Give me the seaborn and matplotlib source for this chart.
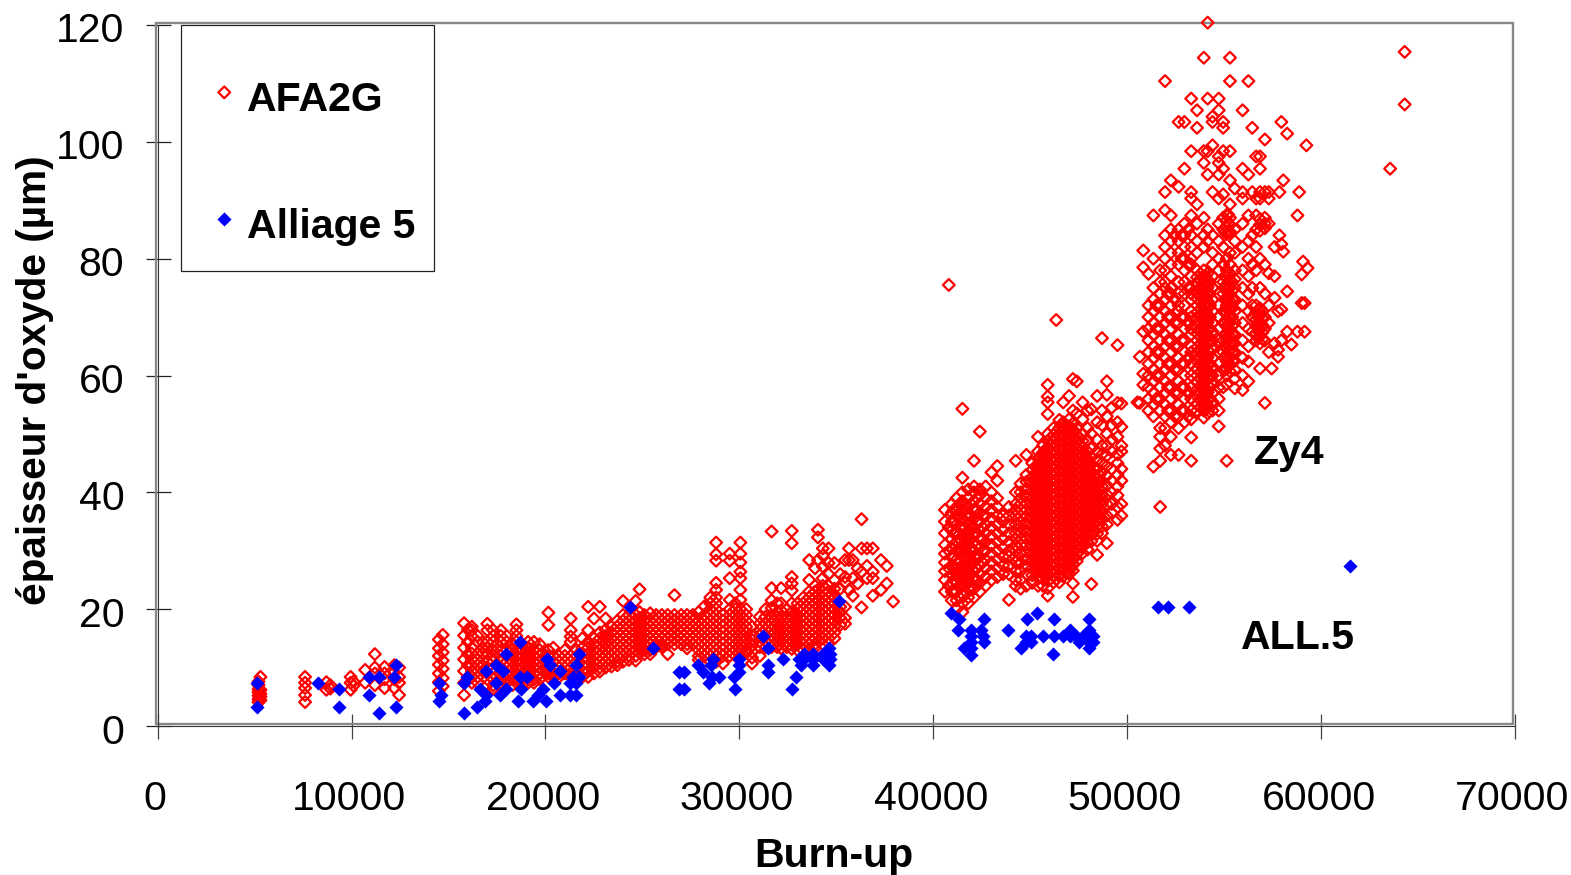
import matplotlib
matplotlib.use('Agg')
import matplotlib.pyplot as plt
from matplotlib.patches import Rectangle
from matplotlib.transforms import ScaledTranslation
import pandas as pd
import seaborn as sns

# Values. Each entry: (burn-up, [oxide thicknesses at that burn-up])
afa_low = [
    (5200, [4.1, 4.6, 5.2, 5.8, 6.3, 7.0, 7.6]), (5300, [4.4, 5.0, 5.5, 6.2, 8.4]),
    (7600, [8.4, 7.4, 6.5, 5.3, 4.1]), (8700, [7.5, 6.2]), (8900, [7.0, 6.4]),
    (9950, [8.4, 7.4, 6.2]), (10100, [7.6, 6.9]),
    (10700, [9.6, 7.4]), (11200, [12.3, 10.0, 9.0, 7.0]), (11700, [10.1, 9.0, 8.0, 6.5]),
    (12200, [10.4, 8.0, 6.5, 9.2]), (12450, [10.0, 8.4, 7.4, 5.3]),
    (14500, [14.8, 13.3, 12.0, 10.5, 9.0, 7.5, 6.0]),
    (14700, [15.6, 14.0, 12.6, 11.2, 9.8, 8.2, 6.8]),
]
afa_mid = [
    (15800, [17.6, 15.5, 13.4, 11.4, 9.4, 7.4, 5.3]),
    (16000, [16.5, 14.4, 12.3, 10.4, 8.4]),
    (16200, [17.0, 16.4, 15.4, 13.4, 12.4, 11.4, 10.4, 9.4, 8.4, 7.4]),
    (16500, [15.4, 14.4, 12.4, 11.4, 10.4, 9.4, 8.4, 7.4]),
    (16750, [14.4, 13.4, 12.4, 10.4, 9.4]),
    (17000, [17.5, 16.4, 14.4, 13.4, 12.4, 11, 10, 9, 8, 7]),
    (17300, [16.4, 15.4, 14.4, 13, 12, 11, 10, 9, 8, 7, 6.4]),
    (17700, [16.4, 15.4, 14.4, 13, 12, 11, 10, 9, 8, 7.4]),
    (18000, [15.4, 14.4, 13, 12, 11, 10, 9, 8, 7.4]),
    (18300, [14, 13, 12, 11, 10, 9, 8, 7]),
    (18500, [17.4, 16.4, 15.4, 14.4, 13, 12, 11, 10, 9, 8, 7.4]),
    (18800, [14, 13, 12, 11, 10, 9, 8, 7]),
    (19100, [14.4, 13.4, 12.4, 11.4, 10.4, 9.4, 8.4, 7.4]),
    (19400, [14.4, 13, 12, 11, 10, 9, 8, 7.4]),
    (19700, [14, 13, 12, 11, 10, 9, 8]),
    (20150, [19.4, 17.3, 13, 12, 11, 10, 9, 8.4]),
    (20400, [13.4, 12, 11, 10, 9, 8.4]),
    (20700, [12, 11, 10, 9, 8.4]),
    (21000, [13, 12, 11, 10, 9]),
    (21300, [18.4, 16.4, 15.3, 14.4, 12, 11, 10, 9, 8.4]),
    (21600, [13, 12, 11, 10, 9, 8]),
    (21900, [15, 13.4, 12.4, 11.4, 10.4, 9.4, 8.4]),
    (22200, [20.4, 16.4, 14.4, 13.4, 12.4, 11.4, 10.4, 9.4, 8.4]),
    (22500, [18.4, 15, 14, 13, 12, 11, 10, 9]),
    (22800, [20.4, 16, 15, 14, 13, 12, 11, 10, 9.3]),
    (23100, [18.4, 16.5, 15.4, 14.3, 13.2, 12.1, 11, 10]),
    (23400, [17, 16, 15, 14, 13, 12, 11, 10.2]),
    (23700, [18, 17, 16, 15, 14, 13, 12, 11, 10.4]),
    (24000, [21.4, 19, 18, 17, 16, 15, 14, 13, 12, 11]),
    (24300, [19, 18, 17, 16, 15, 14, 13, 12, 11.3]),
    (24650, [21.4, 19, 18, 17, 16, 15, 14, 13, 12, 11.2]),
    (24850, [23.4, 19.5, 18.5, 17.5, 16.5, 15.5, 14.5, 13.5, 12.5]),
]
afa_plateau = [
    (25100, [19, 18, 17, 16, 15, 14, 13, 12.3]),
    (25400, [19.3, 18, 17, 16, 15, 14, 13, 12.3]),
    (25700, [19, 18, 17, 16, 15, 14, 13.5]),
    (26000, [19, 18, 17, 16, 15, 14, 13.5]),
    (26300, [19, 18, 17, 16, 15, 14, 12.3]),
    (26650, [22.4, 19, 18, 17, 16, 15, 14]),
    (27000, [19, 18, 17, 16, 15, 14]),
    (27300, [19, 18, 17, 16, 15, 14, 13.3]),
    (27600, [19, 18, 17, 16, 15, 14]),
    (27900, [19.5, 18, 17, 16, 15, 14, 13, 12, 11.3]),
    (28200, [20.5, 19, 18, 17, 16, 15, 14, 13, 12, 11]),
    (28500, [22, 21, 20, 19, 18, 17, 16, 15, 14, 13, 12, 11]),
    (28800, [31.4, 29.4, 28.3, 24.5, 23.3, 22, 21, 20, 19, 18, 17, 16, 15, 14, 13, 12, 11]),
    (29150, [19, 18, 17, 16, 15, 14, 13, 12, 10.7]),
    (29500, [29.5, 28.3, 25.3, 21.6, 20, 19, 18, 17, 16, 15, 14, 13, 12]),
    (29800, [21, 20, 19, 18, 17, 16, 15, 14, 13, 12]),
    (30050, [31.4, 29.5, 28, 26.4, 25.3, 23.3, 21.6, 20, 19, 18, 17, 16, 15, 14, 13, 12]),
    (30350, [20, 19, 18, 17, 16, 15, 14, 13, 12.5]),
    (30650, [17, 15.5, 14.7, 13.7, 12.7, 11.7, 10.7]),
    (31050, [18.7, 17.5, 16.5, 15.5, 14.5, 13.5, 12]),
    (31350, [20, 18.7, 17.5, 16.5, 15.5, 14.5, 13.5]),
    (31660, [33.3, 23.6, 21.5, 20.2, 18.7, 17.5, 16.5, 15.5, 14.5, 13.5]),
    (31950, [21, 19.5, 18.7, 17.5, 16.5, 15.5, 14.5, 13.5]),
    (32150, [23.6, 21, 19.8, 18.7, 17.5, 16.5, 15.5, 14.5, 13.3]),
    (32700, [33.4, 31.3, 25.5, 24.4, 23.2, 21, 19.5, 18.7, 17.5, 16.5, 15.5, 14.5, 13.2]),
    (32450, [20, 18.7, 17.5, 16.5, 15.5, 14.5, 13.5]),
    (33000, [21, 20, 19, 18, 17, 16, 15, 14, 13]),
    (33300, [22, 21, 20, 19, 18, 17, 16, 15, 14, 13]),
    (33600, [28.4, 25, 23, 22, 21, 20, 19, 18, 17, 16, 15, 14, 13.2]),
    (33900, [27, 24, 23, 22, 21, 20, 19, 18, 17, 16, 15, 14, 13.4]),
    (34050, [33.6, 32.3, 28.4]),
    (34300, [30.4, 29.2, 27.3, 25.3, 24, 23, 22, 21, 20, 19, 18, 17, 16, 15, 14]),
    (34600, [30.4, 27.9, 26, 24, 23, 22, 21, 20, 19, 18, 17, 16, 15, 14.2]),
    (34900, [27.9, 25, 23.5, 22, 21, 20, 19, 18, 17, 16, 15]),
    (35200, [26, 23.5, 20.4, 19.5, 18.5, 17.3]),
    (35450, [28.4, 25.5, 24.5, 20.4, 18.5, 17.5]),
    (35650, [30.4, 28.4, 23.3]),
    (35850, [28.4, 25.3, 22.3]),
    (36100, [24.4, 27]),
    (36300, [35.4, 30.4, 26.4, 20.3]),
    (36580, [30.4, 27.4, 25.3]),
    (36880, [30.4, 26.4, 25.3, 22.3]),
    (37300, [28.4, 23.3]), (37600, [27.4, 24.4]), (37930, [21.3]),
]
afa_band_fill = [
    (18650, [13.5, 12.5, 11.5, 10.5, 9.5, 8.5]), (18950, [12.5, 11.5, 10.5, 9.5, 8.5]),
    (19250, [12.5, 11.5, 10.5, 9.5, 8.5]), (19550, [12.5, 11.5, 10.5, 9.5, 8.5]),
    (19850, [12.5, 11.5, 10.5, 9.5, 8.5]), (20050, [11.5, 10.5, 9.5]), (20550, [11.5, 10.5, 9.5]),
    (22650, [13.5, 12.5, 11.5, 10.5]), (22950, [14.5, 13.5, 12.5, 11.5, 10.5]),
    (23250, [15.5, 14.5, 13.5, 12.5, 11.5, 10.5]), (23550, [16.5, 15.5, 14.5, 13.5, 12.5, 11.5]),
    (23850, [17.5, 16.5, 15.5, 14.5, 13.5, 12.5, 11.5]), (24150, [18.5, 17.5, 16.5, 15.5, 14.5, 13.5, 12.5]),
    (24480, [18.5, 17.5, 16.5, 15.5, 14.5, 13.5, 12.5]), (24980, [18.5, 17.5, 16.5, 15.5, 14.5, 13.5]),
    (25250, [18.5, 17.5, 16.5, 15.5, 14.5, 13.5]), (25550, [18.5, 17.5, 16.5, 15.5, 14.5]),
    (25850, [18.5, 17.5, 16.5, 15.5, 14.5]), (26150, [18.5, 17.5, 16.5, 15.5, 14.5]),
    (26470, [18.5, 17.5, 16.5, 15.5, 14.5]), (26820, [18.5, 17.5, 16.5, 15.5, 14.5]),
    (27150, [18.5, 17.5, 16.5, 15.5, 14.5]), (27450, [18.5, 17.5, 16.5, 15.5, 14.5]),
    (27750, [18.5, 17.5, 16.5, 15.5, 14.5]), (28050, [18.5, 17.5, 16.5, 15.5, 14.5, 13.5, 12.5]),
    (28650, [19.5, 18.5, 17.5, 16.5, 15.5, 14.5, 13.5, 12.5]),
    (29650, [19.5, 18.5, 17.5, 16.5, 15.5, 14.5, 13.5, 12.5]),
    (29950, [19.5, 18.5, 17.5, 16.5, 15.5, 14.5, 13.5, 12.5]),
    (30200, [18.5, 17.5, 16.5, 15.5, 14.5, 13.5]),
    (31200, [17, 16, 15, 14]), (31500, [18, 17, 16, 15, 14]), (31800, [18, 17, 16, 15, 14]),
    (32050, [18, 17, 16, 15, 14]), (32300, [18, 17, 16, 15, 14]), (32570, [18, 17, 16, 15, 14]),
    (32850, [19, 18, 17, 16, 15, 14]), (33150, [20.5, 19.5, 18.5, 17.5, 16.5, 15.5, 14.5]),
    (33450, [21.5, 20.5, 19.5, 18.5, 17.5, 16.5, 15.5, 14.5]),
    (33750, [22.5, 21.5, 20.5, 19.5, 18.5, 17.5, 16.5, 15.5, 14.5]),
    (34100, [23.5, 22.5, 21.5, 20.5, 19.5, 18.5, 17.5, 16.5, 15.5, 14.5]),
    (34450, [23.5, 22.5, 21.5, 20.5, 19.5, 18.5, 17.5, 16.5, 15.5]),
    (34750, [22.5, 21.5, 20.5, 19.5, 18.5, 17.5, 16.5]),
]
afa_high = [
    (40600, [23, 25, 26.5, 28, 29.5, 31, 33, 35, 37]),
    (40800, [75.5, 24, 27, 30, 34]),
    (40950, [21.5, 23, 24.5, 26, 27.5, 29, 30.5, 32, 33.5, 35, 36.5, 38]),
    (41200, [20, 21.5, 23, 24.5, 26, 27, 28.5, 30, 31.5, 33, 34.5, 36, 37, 39]),
    (41500, [54.3, 42.5, 40, 38.5, 37, 35.5, 34, 32.5, 31, 30, 29, 27.5, 26, 25, 24, 22.5, 21, 19.5]),
    (41800, [21, 22, 23.5, 25, 26, 27, 28, 29.5, 31, 32, 33, 34.5, 36, 37.5, 39, 40.5]),
    (42100, [45.4, 41, 40, 38.5, 37, 35.5, 34, 33, 31.5, 30, 29, 28, 26.5, 25, 23.5, 22]),
    (42400, [50.4, 40.5, 39.5, 38, 36.5, 35, 33.5, 32, 30.5, 29, 27.5, 26, 24.5, 23]),
    (42700, [41, 39, 37.5, 36, 34.5, 33, 31.5, 30, 28.5, 27, 25.5, 24]),
    (43000, [43.4, 40, 38.5, 37, 35.5, 34, 32.5, 31, 29.5, 28, 26.5, 25]),
    (43300, [44.5, 42, 39, 37.5, 36, 34.5, 33, 31.5, 30, 28.5, 27, 25.5]),
    (43600, [36, 35, 33.5, 32, 30.5, 29, 27.5, 26]),
    (43900, [37.5, 36, 34.5, 33, 31.5, 30, 29, 27.5, 26, 21.6]),
    (44250, [45.4, 40, 38, 37, 36, 34.5, 33, 32, 31, 30, 29, 28, 26.5, 25, 24]),
    (44500, [41.5, 40, 39, 38, 37, 36, 35, 34, 33, 32, 31, 29.5, 28, 26.5, 25, 23.5]),
    (44800, [46.4, 43, 41.8, 40.6, 39.4, 38.2, 37, 35.8, 34.6, 33.4, 32.2, 31, 29.8, 28.6, 27.4, 26, 24]),
    (45100, [45, 43.8, 42.6, 41.4, 40.2, 39, 37.8, 36.6, 35.4, 34.2, 33, 31.8, 30.6, 29.4, 28.2, 27, 25.8, 24.5]),
    (45400, [49.5, 47, 45.8, 44.6, 43.4, 42.2, 41, 39.8, 38.6, 37.4, 36.2, 35, 33.8, 32.6, 31.4, 30.2, 29, 27.8, 26.6, 25.4, 24]),
    (45650, [48, 46.8, 45.6, 44.4, 43.2, 42, 40.8, 39.6, 38.4, 37.2, 36, 34.8, 33.6, 32.4, 31.2, 30, 28.8, 27.6, 26.4, 25.2, 24]),
    (45900, [58.4, 56.4, 55.4, 53.4, 50, 48.8, 47.6, 46.4, 45.2, 44, 42.8, 41.6, 40.4, 39.2, 38, 36.8, 35.6, 34.4, 33.2, 32, 30.8, 29.6, 28.4, 27.2, 26, 24.8, 23.6, 22.3]),
    (46200, [51, 49.8, 48.6, 47.4, 46.2, 45, 43.8, 42.6, 41.4, 40.2, 39, 37.8, 36.6, 35.4, 34.2, 33, 31.8, 30.6, 29.4, 28.2, 27, 25.8, 24.6]),
    (46340, [69.5]),
    (46500, [52.4, 51, 49.8, 48.6, 47.4, 46.2, 45, 43.8, 42.6, 41.4, 40.2, 39, 37.8, 36.6, 35.4, 34.2, 33, 31.8, 30.6, 29.4, 28.2, 27, 25.8, 24.6]),
    (46700, [55.4, 52, 50.8, 49.6, 48.4, 47.2, 46, 44.8, 43.6, 42.4, 41.2, 40, 38.8, 37.6, 36.4, 35.2, 34, 32.8, 31.6, 30.4, 29.2, 28, 26.8, 25.6]),
    (47000, [56.5, 52.5, 51.3, 50.1, 48.9, 47.7, 46.5, 45.3, 44.1, 42.9, 41.7, 40.5, 39.3, 38.1, 36.9, 35.7, 34.5, 33.3, 32.1, 30.9, 29.7, 28.5, 27.3, 26.1]),
    (47200, [59.4, 54, 51.8, 50.6, 49.4, 48.2, 47, 45.8, 44.6, 43.4, 42.2, 41, 39.8, 38.6, 37.4, 36.2, 35, 33.8, 32.6, 31.4, 30.2, 29, 27.8, 26.6, 24.4, 22.1]),
    (47400, [59, 53.5, 51, 49.8, 48.6, 47.4, 46.2, 45, 43.8, 42.6, 41.4, 40.2, 39, 37.8, 36.6, 35.4, 34.2, 33, 31.8, 30.6, 29.4, 28.2]),
    (47700, [55.4, 52.5, 50, 48.8, 47.6, 46.4, 45.2, 44, 42.8, 41.6, 40.4, 39.2, 38, 36.8, 35.6, 34.4, 33.2, 32, 30.8, 29.6]),
    (47950, [54, 51, 49, 47, 45.8, 44.6, 43.4, 42.2, 41, 39.8, 38.6, 37.4, 36.2, 35, 33.8, 32.6, 31.4, 30.2]),
    (48150, [24.3, 54.2, 50, 47.5, 46, 44.8, 43.6, 42.4, 41.2, 40, 38.8, 37.6, 36.4, 35.2, 34, 32.8, 31.6]),
    (48450, [56.5, 52, 49, 47, 45.5, 44, 42.5, 41.3, 40.1, 38.9, 37.7, 36.5, 35.3, 34.1, 32.9, 31.7, 29.3]),
    (48700, [66.4, 54, 51.5, 48, 46.5, 45, 43.5, 42, 41, 39.5, 38, 36.8, 35.5, 34.2, 33]),
    (48950, [59, 56.7, 53, 50, 48, 46.3, 44.5, 42.8, 41.2, 39.6, 38, 36, 34.5, 31.3]),
    (49200, [54.5, 51.5, 49, 47, 44, 42, 40, 38, 36.5]),
    (49500, [65.2, 55.3, 52, 49.5, 46.5, 45, 43, 41, 39.5, 37.5, 35.3]),
    (49700, [55.2, 51.2, 48, 47, 44, 42, 38, 36]),
    (50530, [55.4]),
]
afa_high_fill = [
    (41050, [37, 35, 33, 31, 29, 27, 25, 23]), (41350, [38, 36, 34, 32, 30, 28, 26, 24, 22]),
    (41650, [38, 36, 34, 32, 30, 28, 26, 24]), (41950, [38, 36, 34, 32, 30, 28, 26, 24]),
    (42250, [37, 35, 33, 31, 29, 27, 25]), (42550, [36, 34, 32, 30, 28]),
    (45250, [44.4, 43.2, 42, 40.8, 39.6, 38.4, 37.2, 36, 34.8, 33.6, 32.4, 31.2, 30, 28.8, 27.6, 26.4]),
    (45520, [46, 44.8, 43.6, 42.4, 41.2, 40, 38.8, 37.6, 36.4, 35.2, 34, 32.8, 31.6, 30.4, 29.2, 28, 26.8, 25.6]),
    (45770, [47.2, 46, 44.8, 43.6, 42.4, 41.2, 40, 38.8, 37.6, 36.4, 35.2, 34, 32.8, 31.6, 30.4, 29.2, 28, 26.8, 25.6]),
    (46050, [49.2, 48, 46.8, 45.6, 44.4, 43.2, 42, 40.8, 39.6, 38.4, 37.2, 36, 34.8, 33.6, 32.4, 31.2, 30, 28.8, 27.6, 26.4, 25.2]),
    (46350, [50.4, 49.2, 48, 46.8, 45.6, 44.4, 43.2, 42, 40.8, 39.6, 38.4, 37.2, 36, 34.8, 33.6, 32.4, 31.2, 30, 28.8, 27.6, 26.4, 25.2]),
    (46600, [51.4, 50.2, 49, 47.8, 46.6, 45.4, 44.2, 43, 41.8, 40.6, 39.4, 38.2, 37, 35.8, 34.6, 33.4, 32.2, 31, 29.8, 28.6, 27.4, 26.2]),
    (46850, [51.4, 50.2, 49, 47.8, 46.6, 45.4, 44.2, 43, 41.8, 40.6, 39.4, 38.2, 37, 35.8, 34.6, 33.4, 32.2, 31, 29.8, 28.6, 27.4, 26.2]),
    (47100, [51, 49.8, 48.6, 47.4, 46.2, 45, 43.8, 42.6, 41.4, 40.2, 39, 37.8, 36.6, 35.4, 34.2, 33, 31.8, 30.6, 29.4, 28.2, 27]),
    (47300, [50.4, 49.2, 48, 46.8, 45.6, 44.4, 43.2, 42, 40.8, 39.6, 38.4, 37.2, 36, 34.8, 33.6, 32.4, 31.2, 30, 28.8]),
    (47550, [49.2, 48, 46.8, 45.6, 44.4, 43.2, 42, 40.8, 39.6, 38.4, 37.2, 36, 34.8, 33.6, 32.4, 31.2, 30]),
    (47800, [46.8, 45.6, 44.4, 43.2, 42, 40.8, 39.6, 38.4, 37.2, 36, 34.8, 33.6, 32.4, 31.2]),
    (48050, [45, 43.8, 42.6, 41.4, 40.2, 39, 37.8, 36.6, 35.4, 34.2, 33]),
    (48300, [44, 42.8, 41.6, 40.4, 39.2, 38, 36.8, 35.6, 34.4, 33.2]),
    (48570, [43, 41.8, 40.6, 39.4, 38.2, 37, 35.8, 34.6]),
]
afa_top = [
    (50650, [63.2, 55.3]), (50830, [81.4, 78.5, 67.5, 60.3, 58.4]),
    (51100, [77.4, 72, 70, 68, 66, 64, 62, 60, 58, 56, 54]),
    (51350, [87.4, 80, 75, 73, 71, 69, 67, 65, 63, 61, 59, 57, 55, 53, 44.4]),
    (51700, [78, 76, 74, 72, 70, 68, 66, 64, 62, 60, 58, 56, 54, 51, 49.5, 47.5, 45.4, 37.5]),
    (51950, [110.4, 91.4, 88.3, 84, 82, 80, 78, 76, 75, 73, 71, 69, 67, 65, 63, 61, 59, 57, 55, 53, 51, 48]),
    (52250, [93.4, 87.4, 85, 83, 81, 79, 77, 75, 74, 72, 70, 68, 66, 64, 62, 60, 58, 56, 54, 52, 49.5, 46.4]),
    (52650, [103.4, 92.3, 85, 83, 81, 79, 76, 74, 72, 71, 69, 67, 65, 63, 61, 59, 57, 55, 53, 51, 46.4]),
    (52950, [103.4, 95.4, 86, 84, 82, 80, 78, 76, 74, 72, 70, 68, 66, 64, 62, 60, 58, 56, 54, 52]),
    (53300, [107.4, 98.4, 91.4, 90.3, 87.4, 84, 82, 80, 79, 77, 75, 74, 73, 71, 70, 68, 67, 65, 64, 62, 60, 58, 56, 54, 52.5, 49.4, 45.4]),
    (53600, [105.4, 102.4, 89.3, 86, 83, 81, 78, 76.8, 75.6, 74.4, 73.2, 72, 70.8, 69.6, 68.4, 67.2, 66, 64.8, 63.6, 62.4, 61.2, 60, 58.8, 57.6, 56.4, 55.2, 54]),
    (53950, [114.4, 98.4, 96.4, 87, 84, 82, 78, 76.8, 75.6, 74.4, 73.2, 72, 70.8, 69.6, 68.4, 67.2, 66, 64.8, 63.6, 62.4, 61.2, 60, 58.8, 57.6, 56.4, 55.2, 54, 52.8]),
    (54150, [120.4, 107.4, 94.4, 98.4, 85, 83, 77.5, 76.3, 75.1, 73.9, 72.7, 71.5, 70.3, 69.1, 67.9, 66.7, 65.5, 64.3, 63.1, 61.9, 60.7, 59.5, 58.3, 57.1, 55.9, 54.7, 53.5]),
    (54400, [104.3, 103.4, 91.4, 99.4, 84, 81, 79, 77, 75, 73, 71, 69, 67.5, 66, 64.5, 63, 61.5, 60, 58.5, 57, 55.5, 54]),
    (54720, [107.4, 105.4, 97.5, 96.4, 94.4, 90.3, 86, 83, 80, 78, 76, 74, 72, 70, 68, 66, 64, 62, 60, 58, 56, 54, 51.3]),
    (54950, [103.4, 102.4, 95.4, 98.4, 91, 87, 85, 82, 79, 76, 74, 71, 69, 66, 64, 61, 58]),
    (55130, [87.5, 86.5, 85.4, 84.2, 80, 78, 76.8, 75.6, 74.4, 73.2, 72, 70.8, 69.6, 68.4, 67.2, 66, 64.8, 63.6, 62.4, 61.2, 60, 58.5, 45.4]),
    (55300, [114.4, 110.4, 98.4, 93.4, 89.3, 87, 85.8, 84.6, 81, 79, 77.5, 76.3, 75.1, 73.9, 72.7, 71.5, 70.3, 69.1, 67.9, 66.7, 65.5, 64.3, 63.1, 61.9, 60.7]),
    (55550, [92, 85, 83, 81, 78, 76.5, 75, 73, 71, 69, 67, 65.5, 64, 62.5, 61, 59.5, 57.8]),
    (55950, [105.4, 95.4, 91.4, 90.3, 86, 82, 78, 75, 72, 69, 66, 63, 60, 57.5]),
    (56250, [110.4, 94.4, 87.4, 83, 80, 77, 74, 71, 68, 65, 62.4, 59]),
    (56450, [102.4, 91.4, 84, 79, 75, 72, 70, 67.5]),
    (56650, [97.5, 90.3, 87.4, 85, 82, 78, 72, 70.8, 69.6, 68.4, 67.2, 66]),
    (56850, [97.5, 95.4, 91.4, 90.3, 86.8, 85.8, 84.8, 80, 75, 71.5, 70.3, 69.1, 67.9, 66.7, 65.5, 61.2]),
    (57100, [100.4, 91.4, 87, 86, 85.2, 79, 74, 70, 68, 66, 55.3]),
    (57300, [91.4, 90.3, 86, 77.5, 72, 69, 64]),
    (57450, [61.2]), (57600, [73.3, 65.5, 82, 77]),
    (57780, [64.4, 63.2, 71]), (57850, [91.4, 84]), (57950, [103.4, 82.5, 71.3, 66]),
    (58050, [93.4, 81.2]), (58250, [101.4, 74.4, 67.5]), (58470, [65.3]),
    (58780, [87.4, 67.5]), (58870, [91.4]), (59000, [77.3, 72.4]), (59070, [79.5]),
    (59150, [72.4, 67.5]), (59240, [99.4]), (59300, [78.4]),
    (63560, [95.4]), (64310, [115.4, 106.4]),
]
afa_top_fill = [
    (51500, [72, 68, 64, 60, 56]), (52100, [74, 70, 66, 62, 58, 54]), (52450, [84, 73, 69, 65, 61, 57, 53]),
    (52800, [84, 80, 70, 66, 62, 58, 54]), (53150, [85, 79, 75, 69, 63, 57, 53]),
    (53780, [77.4, 76.2, 75, 73.8, 72.6, 71.4, 70.2, 69, 67.8, 66.6, 65.4, 64.2, 63, 61.8, 60.6, 59.4, 58.2, 57, 55.8, 54.6]),
    (54050, [77, 75.8, 74.6, 73.4, 72.2, 71, 69.8, 68.6, 67.4, 66.2, 65, 63.8, 62.6, 61.4, 60.2, 59, 57.8, 56.6, 55.4, 54.2]),
    (54270, [76, 74, 72, 70, 68, 66, 64, 62, 60, 58, 56]),
    (55050, [84.5, 77, 75, 73, 71, 69, 67, 65, 63, 61]),
    (55220, [87.5, 86, 84.5, 77.2, 76, 74.8, 73.6, 72.4, 71.2, 70, 68.8, 67.6, 66.4, 65.2, 64, 62.8, 61.6]),
    (55420, [76, 74.5, 73, 71.5, 70, 68.5, 67, 65.5, 64, 62.5]),
    (56750, [71.2, 70, 68.8, 67.6, 66.4]), (56980, [71, 69.8, 68.6, 67.4, 66.2]),
]
alloy5_low = [
    (5120, [7.4, 3.3]), (8260, [7.4]), (9350, [6.4, 3.3]), (10890, [8.4, 5.3]), (11410, [8.4, 2.3]),
    (12270, [10.4, 3.3]), (12180, [8.4]), (14500, [7.4, 4.3]), (14620, [5.3]), (15820, [7.4, 2.3]),
    (15940, [8.4]), (16460, [3.3]), (16600, [6.4]), (16940, [9.4, 5.3]), (16900, [4.3]),
    (17450, [10.4, 7.4]), (17630, [5.3]), (17800, [9.4]), (17970, [12.3, 6.4]), (18690, [14.4]),
    (18710, [8.4]), (18740, [6.4]), (18570, [4.3]), (19050, [8.4]), (19340, [4.3]),
    (19600, [5.3]), (19860, [6.4]), (20030, [4.3]), (20080, [11.4]), (20250, [10.4]),
    (20460, [7.4]), (20770, [9.4, 5.3]), (21240, [7.4]), (21270, [5.3]), (21400, [8.4]),
    (21580, [10.4, 7.4, 5.3]), (21750, [12.4, 8.4]),
]
alloy5_mid = [
    (24360, [20.4]), (25530, [13.4]), (26870, [9.3, 6.3]), (27160, [9.3, 6.3]),
    (27850, [10.4]), (28100, [9.3]), (28450, [7.3]), (28540, [10.4]), (28590, [8.4]),
    (28620, [11.4]), (28970, [8.4]), (29740, [8.4]), (29770, [6.3]), (30000, [11.4, 10.4, 9.3]),
    (31200, [15.4]), (31490, [13.4, 10.4, 9.3]), (32265, [11.4]), (32690, [6.3]), (32920, [8.4]),
    (33090, [11.4]), (33180, [10.4]), (33350, [12.4, 11.4]), (33780, [12.4, 11.4]), (33810, [10.4]),
    (34290, [12.4, 11.4]), (34640, [13.4, 10.4]), (34670, [12.4, 11.4]), (35120, [21.4]),
]
alloy5_high = [
    (40910, [19.4]), (41340, [18.4]), (41260, [16.4]), (41600, [13.4]),
    (41940, [16.4, 15.4, 14.4, 13.4, 12.2]), (42460, [16.4]), (42540, [15.4]), (42600, [18.4]),
    (42630, [14.4]), (43830, [16.4]), (44520, [13.4]), (44780, [15.4, 14.4]), (44830, [18.4]),
    (45030, [15.4, 14.4]), (45340, [19.4]), (45640, [15.4]), (46150, [12.3]), (46200, [18.4]),
    (46240, [15.4]), (46670, [15.4]), (47060, [16.4, 15.4]), (47350, [15.4]), (47520, [14.4]),
    (47700, [15.4]), (48040, [18.4, 16.4, 14.4, 13.4]), (48250, [15.4, 14.4]),
    (51600, [20.4]), (52100, [20.4]), (53200, [20.4]), (61500, [27.4]),
]


def to_frame(*groups):
    rows = [(x, y) for group in groups for x, ys in group for y in ys]
    return pd.DataFrame(rows, columns=['burnup', 'oxide'])


afa = to_frame(afa_low, afa_mid, afa_plateau, afa_band_fill, afa_high, afa_high_fill, afa_top, afa_top_fill)
alloy5 = to_frame(alloy5_low, alloy5_mid, alloy5_high)

x_ticks = [0, 10000, 20000, 30000, 40000, 50000, 60000, 70000]
y_ticks = [0, 20, 40, 60, 80, 100, 120]

W, H = 1571, 875
FONT = 29.5
sns.set_theme(style='white')
plt.rcParams['font.family'] = ['Liberation Sans', 'DejaVu Sans']

fig = plt.figure(figsize=(W / 100, H / 100), dpi=100)
ax = fig.add_axes([157.7 / W, 1 - 726 / H, 1357.3 / W, 701 / H])

sns.scatterplot(data=afa, x='burnup', y='oxide', marker='D', s=36, color='#ff0000',
                linewidth=1.6, clip_on=False, legend=False, ax=ax, zorder=3)
sns.scatterplot(data=alloy5, x='burnup', y='oxide', marker='D', s=52, color='#0000ff',
                linewidth=0, clip_on=False, legend=False, ax=ax, zorder=4)
hollow, filled = ax.collections[0], ax.collections[1]
hollow.set_facecolor('none')
hollow.set_edgecolor('#ff0000')

ax.set_xlim(0, 70000)
ax.set_ylim(0, 120)
ax.set_xticks(x_ticks)
ax.set_yticks(y_ticks)
ax.tick_params(axis='x', direction='inout', length=18, width=0.9, color='#444444', pad=29, labelsize=FONT,
               labelcolor='black', bottom=True)
ax.tick_params(axis='y', direction='inout', length=18, width=0.9, color='#222222', pad=15, labelsize=FONT,
               labelcolor='black', left=True)
# tick labels in the original sit a little left of / below their ticks
for lab in ax.get_xticklabels():
    lab.set_transform(lab.get_transform() + ScaledTranslation(-2.5 / 100, -1 / 100, fig.dpi_scale_trans))
for lab in ax.get_yticklabels():
    lab.set_transform(lab.get_transform() + ScaledTranslation(0, -2.5 / 100, fig.dpi_scale_trans))
for side in ['top', 'right']:
    ax.spines[side].set_visible(False)
for side in ['left', 'bottom']:
    ax.spines[side].set_color('#333333')
    ax.spines[side].set_linewidth(0.8)

# grey plot-area frame, sits just inside the axis lines
ax.add_patch(Rectangle((-0.00125, 0.00285), 0.99955, 1.0029 - 0.00285, transform=ax.transAxes,
                       fill=False, edgecolor='#888888', linewidth=1.7, clip_on=False, zorder=1))

ax.set_xlabel('Burn-up', fontsize=FONT, fontweight='bold', color='black')
ax.set_ylabel("épaisseur d'oxyde (µm)", fontsize=29.2, fontweight='bold', color='black')
ax.xaxis.set_label_coords((834 - 157.7) / 1357.3, (726 - 856) / 701, transform=ax.transAxes)
ax.xaxis.label.set_va('center')
ax.yaxis.set_label_coords((35 - 157.7) / 1357.3, (726 - 380) / 701, transform=ax.transAxes)
ax.yaxis.label.set_va('center')

ax.text((1254 - 157.7) / 1357.3, (726 - 464) / 701, 'Zy4', fontsize=FONT, fontweight='bold', color='black',
        ha='left', va='baseline', transform=ax.transAxes)
ax.text((1241 - 157.7) / 1357.3, (726 - 649) / 701, 'ALL.5', fontsize=FONT, fontweight='bold', color='black',
        ha='left', va='baseline', transform=ax.transAxes)

# legend box is larger than its content, so the frame is its own patch
ax.add_patch(Rectangle(((181 - 157.7) / 1357.3, (726 - 271) / 701), 253 / 1357.3, 246 / 701,
                       transform=ax.transAxes, facecolor='white', edgecolor='#222222', linewidth=0.9,
                       clip_on=False, zorder=5))
leg = ax.legend(handles=[hollow, filled], labels=['AFA2G', 'Alliage 5'], loc='upper left',
                bbox_to_anchor=((213 - 157.7) / 1357.3, (726 - 81) / 701), frameon=False,
                prop={'family': ['Liberation Sans'], 'weight': 'bold', 'size': FONT}, labelcolor='black',
                borderaxespad=0, borderpad=0, labelspacing=2.17, handlelength=0.55, handletextpad=0.27,
                scatterpoints=1, scatteryoffsets=[0.65])
leg.set_zorder(6)

fig.savefig('out.png', dpi=100)
plt.close(fig)
